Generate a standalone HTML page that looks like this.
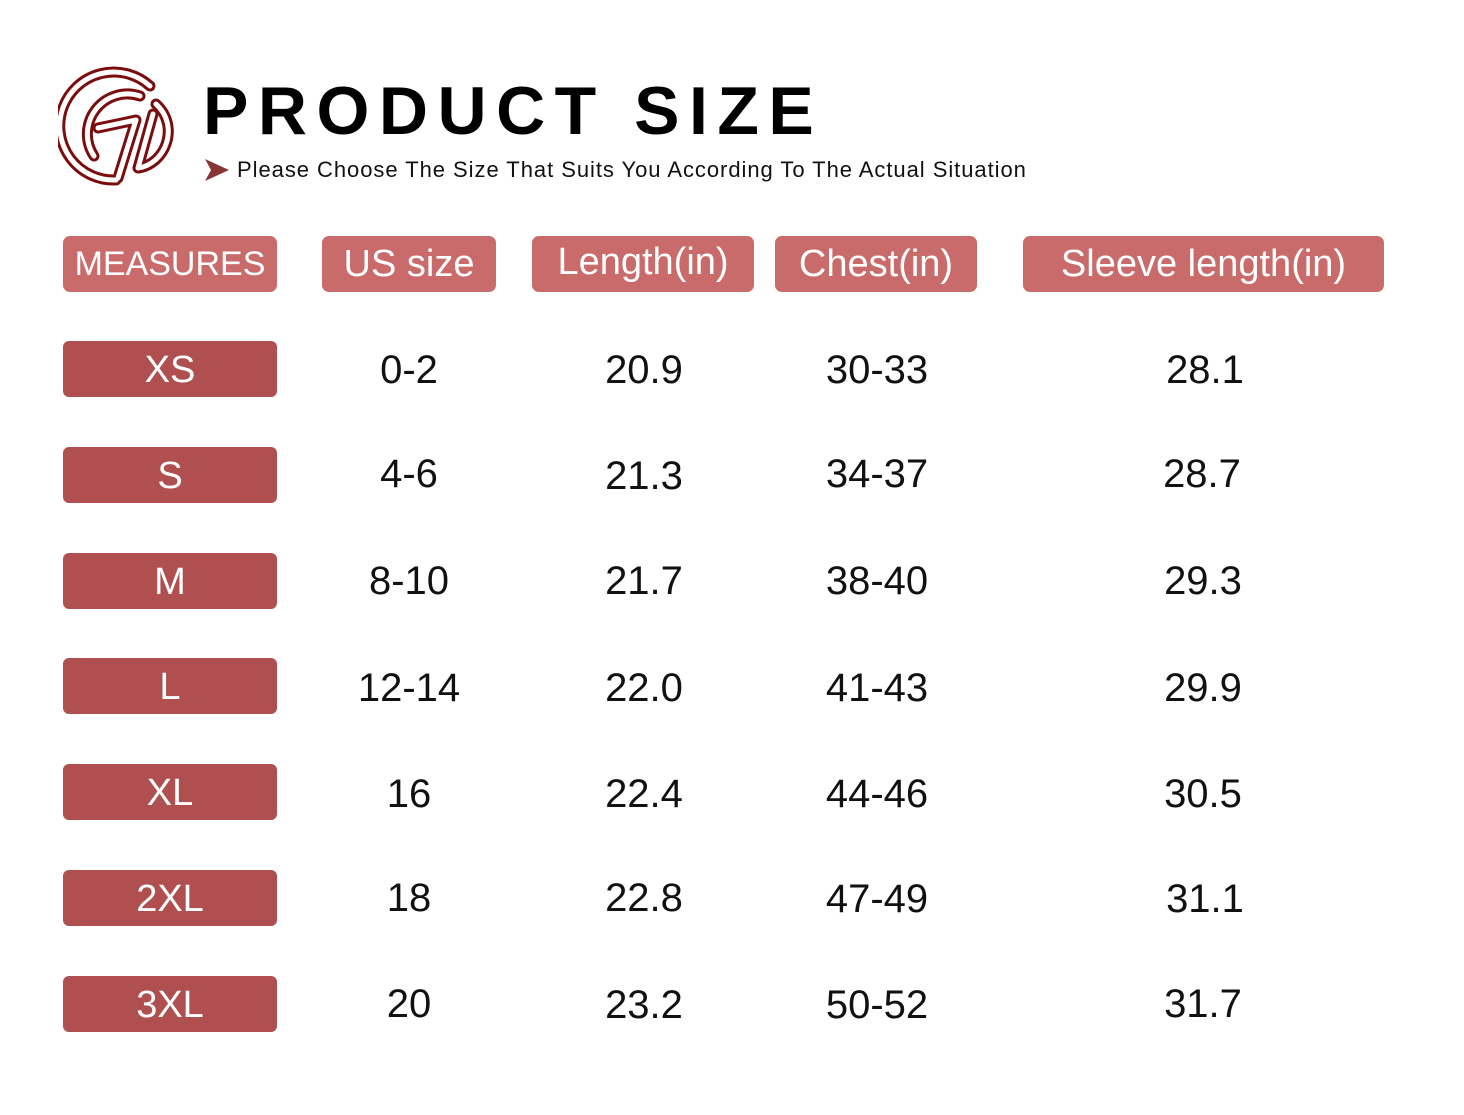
<!DOCTYPE html>
<html><head><meta charset="utf-8"><style>
body{margin:0;width:1464px;height:1115px;background:#fff;font-family:"Liberation Sans",sans-serif;position:relative;overflow:hidden}
.a{position:absolute}
.h{position:absolute;background:#c96b6b;color:#fff;border-radius:7px;height:56px;top:236px;font-size:38px;line-height:56px;text-align:center}
.r{position:absolute;left:63px;width:214px;height:56px;background:#b04f4f;color:#fff;border-radius:6px;font-size:38px;line-height:58px;text-align:center}
.v{position:absolute;font-size:40px;line-height:56px;text-align:center;width:200px;color:#111}
</style></head><body>
<svg class="a" style="left:58px;top:56px" width="125" height="135" viewBox="0 0 125 135">
<g fill="none" stroke="#7a0d0d" stroke-width="11" stroke-linecap="round" stroke-linejoin="round">
<path d="M92 30 A54 54 0 1 0 58 124"/>
<path d="M82 40 A40 40 0 0 0 36 100"/>
<path d="M40 72 L78 64 L60 122"/>
<path d="M98 48 C122 70 108 108 80 112 L95 58"/></g>
<g fill="none" stroke="#fff" stroke-width="5" stroke-linecap="round" stroke-linejoin="round">
<path d="M92 30 A54 54 0 1 0 58 124"/>
<path d="M82 40 A40 40 0 0 0 36 100"/>
<path d="M40 72 L78 64 L60 122"/>
<path d="M98 48 C122 70 108 108 80 112 L95 58"/></g>
</svg>
<div class="a" style="left:203px;top:72px;font-size:68px;font-weight:bold;letter-spacing:9.5px;color:#000">PRODUCT SIZE</div>
<svg class="a" style="left:205px;top:159px" width="26" height="22"><polygon points="0,0 24,11 0,22 6,11" fill="#8a3535"/></svg>
<div class="a" style="left:237px;top:157px;font-size:22px;letter-spacing:0.95px;color:#111">Please Choose The Size That Suits You According To The Actual Situation</div>
<div class="h" style="left:63px;width:214px;font-size:34px">MEASURES</div>
<div class="h" style="left:322px;width:174px">US size</div>
<div class="h" style="left:532px;width:222px;line-height:52px">Length(in)</div>
<div class="h" style="left:775px;width:202px">Chest(in)</div>
<div class="h" style="left:1023px;width:361px">Sleeve length(in)</div>

<div class="r" style="top:341px">XS</div><div class="v" style="left:309px;top:342px">0-2</div><div class="v" style="left:544px;top:342px">20.9</div><div class="v" style="left:777px;top:342px">30-33</div><div class="v" style="left:1105px;top:342px">28.1</div>
<div class="r" style="top:447px">S</div><div class="v" style="left:309px;top:446px">4-6</div><div class="v" style="left:544px;top:448px">21.3</div><div class="v" style="left:777px;top:446px">34-37</div><div class="v" style="left:1102px;top:446px">28.7</div>
<div class="r" style="top:553px">M</div><div class="v" style="left:309px;top:553px">8-10</div><div class="v" style="left:544px;top:553px">21.7</div><div class="v" style="left:777px;top:553px">38-40</div><div class="v" style="left:1103px;top:553px">29.3</div>
<div class="r" style="top:658px">L</div><div class="v" style="left:309px;top:660px">12-14</div><div class="v" style="left:544px;top:660px">22.0</div><div class="v" style="left:777px;top:660px">41-43</div><div class="v" style="left:1103px;top:660px">29.9</div>
<div class="r" style="top:764px">XL</div><div class="v" style="left:309px;top:766px">16</div><div class="v" style="left:544px;top:766px">22.4</div><div class="v" style="left:777px;top:766px">44-46</div><div class="v" style="left:1103px;top:766px">30.5</div>
<div class="r" style="top:870px">2XL</div><div class="v" style="left:309px;top:870px">18</div><div class="v" style="left:544px;top:870px">22.8</div><div class="v" style="left:777px;top:871px">47-49</div><div class="v" style="left:1105px;top:871px">31.1</div>
<div class="r" style="top:976px">3XL</div><div class="v" style="left:309px;top:976px">20</div><div class="v" style="left:544px;top:977px">23.2</div><div class="v" style="left:777px;top:977px">50-52</div><div class="v" style="left:1103px;top:976px">31.7</div>
</body></html>
